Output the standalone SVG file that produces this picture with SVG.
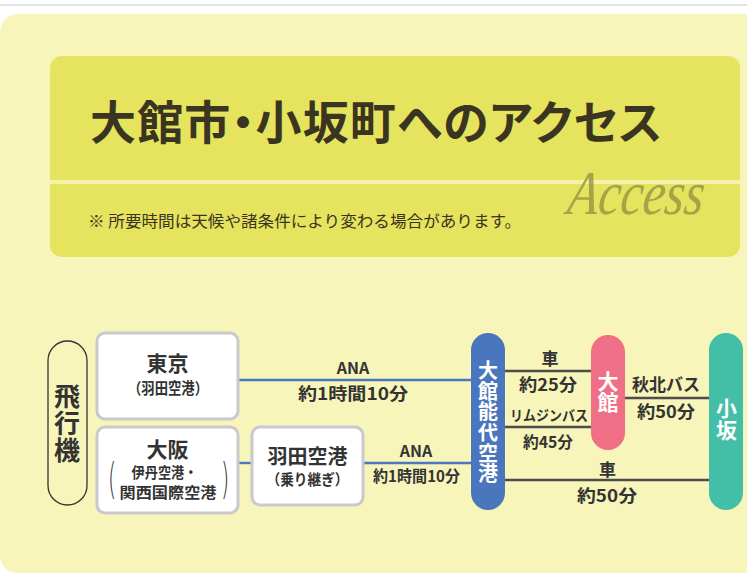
<svg xmlns="http://www.w3.org/2000/svg" width="747" height="585" viewBox="0 0 747 585">
<defs>
<style>
text{font-family:"Noto Sans CJK JP","Noto Sans",sans-serif;fill:#333;}
.t{font-weight:bold;text-anchor:middle;}
.v{writing-mode:vertical-rl;text-anchor:middle;font-weight:bold;}
.box{fill:#fff;stroke:#c9c9ce;stroke-width:3;}
.blue{stroke:#4a78c0;stroke-width:2.4;fill:none;}
.grey{stroke:#4d4d4d;stroke-width:2.4;fill:none;}
.br{font-family:"DejaVu Sans","Liberation Sans",sans-serif;font-weight:200;font-size:42px;fill:#333;text-anchor:middle;}
</style>
</defs>
<rect x="0" y="0" width="747" height="585" fill="#fff"/>
<rect x="0" y="4" width="747" height="2" fill="#e5e5e5"/>
<path d="M0,34 Q0,14 20,14 H747 V573 H20 Q0,573 0,553 Z" fill="#f7f5b9"/>
<g id="header">
<rect x="50" y="56" width="690" height="201" rx="12" fill="#e6e35e"/>
<rect x="50" y="180" width="690" height="4" fill="#f5f2ad"/>
<text x="90" y="139" font-size="46" font-weight="bold" textLength="572" lengthAdjust="spacing" style="fill:#3a3520;font-feature-settings:'palt'">大館市・小坂町へのアクセス</text>
<text transform="translate(566,214) skewX(-8)" x="0" y="0" font-size="62" textLength="136" lengthAdjust="spacingAndGlyphs" style="font-family:'Liberation Serif',serif;font-style:italic;fill:#9a9a46;opacity:0.85">Access</text>
<text x="88" y="227" font-size="16" textLength="433" lengthAdjust="spacingAndGlyphs" style="fill:#3a3520">※ 所要時間は天候や諸条件により変わる場合があります。</text>
</g>
<g id="connectors">
<line class="blue" x1="238" y1="380" x2="472" y2="380"/>
<line class="blue" x1="238" y1="463" x2="253" y2="463"/>
<line class="blue" x1="363" y1="463" x2="472" y2="463"/>
<line class="grey" x1="504" y1="371" x2="592" y2="371"/>
<line class="grey" x1="504" y1="427" x2="592" y2="427"/>
<line class="grey" x1="624" y1="398" x2="710" y2="398"/>
<line class="grey" x1="504" y1="480" x2="710" y2="480"/>
<text class="t" x="353" y="373.5" font-size="16">ANA</text>
<text class="t" x="353" y="400" font-size="17.5" textLength="110" lengthAdjust="spacingAndGlyphs">約1時間10分</text>
<text class="t" x="416" y="456.5" font-size="16">ANA</text>
<text class="t" x="416.5" y="482" font-size="15.5" textLength="87" lengthAdjust="spacingAndGlyphs">約1時間10分</text>
<text class="t" x="550" y="364.5" font-size="17">車</text>
<text class="t" x="548" y="391" font-size="17" textLength="58" lengthAdjust="spacingAndGlyphs">約25分</text>
<text class="t" x="549" y="421" font-size="14.5" textLength="78" lengthAdjust="spacingAndGlyphs">リムジンバス</text>
<text class="t" x="548" y="447.5" font-size="16" textLength="50" lengthAdjust="spacingAndGlyphs">約45分</text>
<text class="t" x="666" y="391" font-size="17" textLength="68" lengthAdjust="spacingAndGlyphs">秋北バス</text>
<text class="t" x="666" y="418" font-size="17" textLength="58" lengthAdjust="spacingAndGlyphs">約50分</text>
<text class="t" x="607.5" y="476" font-size="17">車</text>
<text class="t" x="607" y="502" font-size="17" textLength="60" lengthAdjust="spacingAndGlyphs">約50分</text>
</g>
<g id="hikouki">
<rect x="48" y="341" width="39" height="164" rx="19.5" fill="none" stroke="#333" stroke-width="1.3"/>
<text class="v" font-size="26" x="67" y="424" letter-spacing="1">飛行機</text>
</g>
<g id="tokyo">
<rect class="box" x="97" y="333" width="141" height="86" rx="8"/>
<text class="t" x="167.5" y="371" font-size="21">東京</text>
<text class="t" x="168" y="394" font-size="15.5" textLength="80" lengthAdjust="spacingAndGlyphs">（羽田空港）</text>
</g>
<g id="osaka">
<rect class="box" x="97" y="427" width="141" height="86" rx="8"/>
<text class="t" x="167.5" y="457" font-size="21">大阪</text>
<text class="t" x="164.5" y="477.5" font-size="15" textLength="66" lengthAdjust="spacingAndGlyphs">伊丹空港・</text>
<text class="t" x="168" y="498" font-size="15" textLength="97" lengthAdjust="spacingAndGlyphs">関西国際空港</text>
<text class="br" transform="translate(112,494) scale(0.5,1)">(</text>
<text class="br" transform="translate(225,494) scale(0.5,1)">)</text>
</g>
<g id="haneda">
<rect class="box" x="252" y="427" width="111" height="78" rx="8"/>
<text class="t" x="307.5" y="464" font-size="20">羽田空港</text>
<text class="t" x="307.5" y="485" font-size="15" textLength="82" lengthAdjust="spacingAndGlyphs">（乗り継ぎ）</text>
</g>
<g id="odate-noshiro">
<rect x="471" y="333" width="34" height="177" rx="17" fill="#4a76be"/>
<text class="v" font-size="20" x="488" y="422.5" letter-spacing="0.6" style="fill:#fff">大館能代空港</text>
</g>
<g id="odate">
<rect x="591" y="335" width="34" height="115" rx="17" fill="#ef6f86"/>
<text class="v" font-size="21" x="608" y="391.5" style="fill:#fff">大館</text>
</g>
<g id="kosaka">
<rect x="709" y="333" width="34" height="177" rx="17" fill="#42bfa6"/>
<text class="v" font-size="21" x="726.5" y="420" letter-spacing="1" style="fill:#fff">小坂</text>
</g>
</svg>
